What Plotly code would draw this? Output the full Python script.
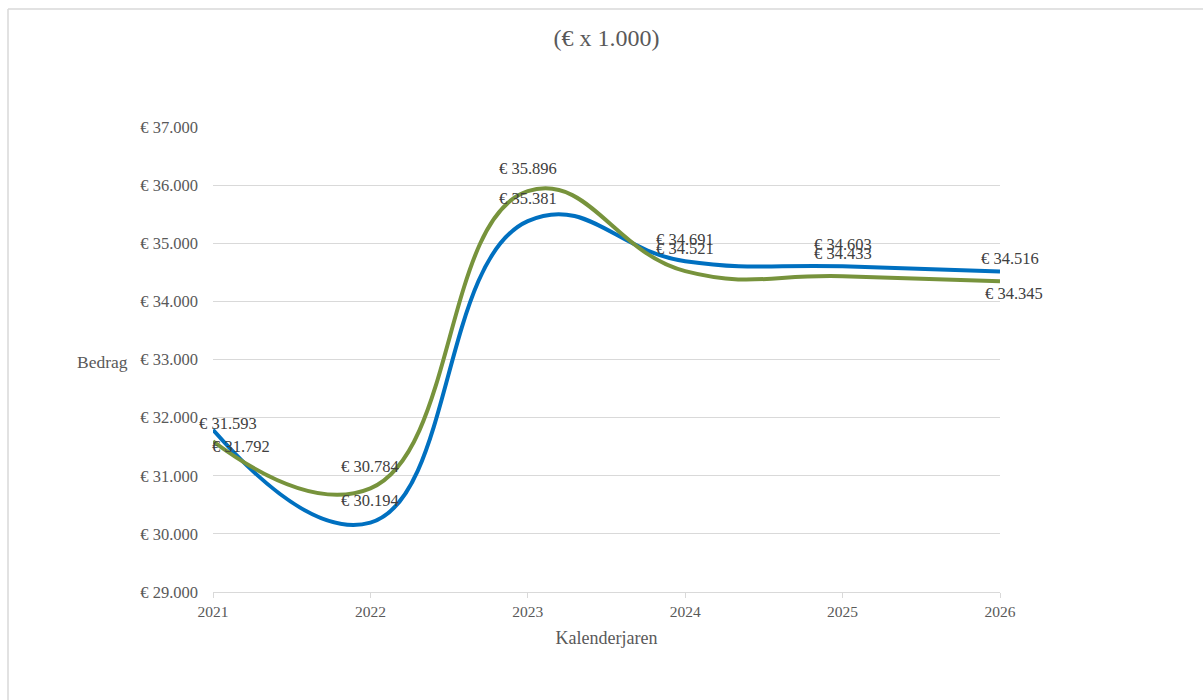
import plotly.graph_objects as go

years = [2021, 2022, 2023, 2024, 2025, 2026]
blue_values = [31792, 30194, 35381, 34691, 34603, 34516]
green_values = [31593, 30784, 35896, 34521, 34433, 34345]
y_tick_vals = [29000, 30000, 31000, 32000, 33000, 34000, 35000, 36000, 37000]
y_tick_text = ["€ 29.000", "€ 30.000", "€ 31.000", "€ 32.000", "€ 33.000",
               "€ 34.000", "€ 35.000", "€ 36.000", "€ 37.000"]

def fmt(v):
    return "€ " + f"{v:,}".replace(",", ".")

BLUE = "#0070C0"
GREEN = "#77933C"
FONT = "Liberation Serif, Times New Roman, serif"

W, H = 1203, 700
L, R, T, B = 213, 203, 127, 108
pw, ph = W - L - R, H - T - B

fig = go.Figure()
fig.add_trace(go.Scatter(x=years, y=blue_values, mode="lines",
                         line=dict(color=BLUE, width=4, shape="spline", smoothing=1.3),
                         showlegend=False, hoverinfo="skip"))
fig.add_trace(go.Scatter(x=years, y=green_values, mode="lines",
                         line=dict(color=GREEN, width=4, shape="spline", smoothing=1.3),
                         showlegend=False, hoverinfo="skip"))

# label offsets (px) relative to the data point
blue_shift = [(28, -17), (0, 22), (0, 23), (0, 22), (0, 22), (10, 13)]
green_shift = [(15, 18), (0, 22), (0, 23), (0, 23), (0, 23), (14, -12)]

annotations = []
for vals, shifts in ((blue_values, blue_shift), (green_values, green_shift)):
    for x, v, (dx, dy) in zip(years, vals, shifts):
        annotations.append(dict(x=x, y=v, xref="x", yref="y", text=fmt(v),
                                showarrow=False, xshift=dx, yshift=dy,
                                font=dict(family=FONT, size=16.5, color="#404040")))

annotations.append(dict(x=(130 - L) / pw, y=(H - B - 362) / ph, xref="paper", yref="paper",
                        xanchor="right", yanchor="middle", text="Bedrag", showarrow=False,
                        font=dict(family=FONT, size=17.5, color="#595959")))

fig.update_layout(
    annotations=annotations,
    width=W, height=H,
    margin=dict(l=L, r=R, t=T, b=B),
    paper_bgcolor="white", plot_bgcolor="white",
    font=dict(family=FONT, size=16, color="#595959"),
    title=dict(text="(€ x 1.000)", x=0.5, xref="paper", xanchor="center",
               y=1 - 38 / H, yref="container", yanchor="middle",
               font=dict(family=FONT, size=24, color="#595959")),
    xaxis=dict(range=[2021, 2026], tickvals=years, ticktext=[str(y) for y in years],
               showgrid=False, zeroline=False, showline=True, linecolor="#D9D9D9",
               linewidth=1, ticks="outside", ticklen=5, tickcolor="#D9D9D9",
               tickfont=dict(family=FONT, size=15.5, color="#595959"),
               title=dict(text="Kalenderjaren", standoff=12,
                          font=dict(family=FONT, size=18, color="#595959"))),
    yaxis=dict(range=[29000, 37000], tickvals=y_tick_vals, ticktext=y_tick_text,
               showgrid=True, gridcolor="#D9D9D9", gridwidth=1, zeroline=False,
               showline=False, ticks="", ticklabelstandoff=14,
               tickfont=dict(family=FONT, size=16.5, color="#595959")),
    shapes=[
        dict(type="line", xref="paper", yref="paper",
             x0=(8 - L) / pw, x1=(1203 - L) / pw, y0=(H - B - 9) / ph, y1=(H - B - 9) / ph,
             line=dict(color="#D9D9D9", width=1.5)),
        dict(type="line", xref="paper", yref="paper",
             x0=(8 - L) / pw, x1=(8 - L) / pw, y0=(H - B - 9) / ph, y1=(H - B - 700) / ph,
             line=dict(color="#D9D9D9", width=1.5)),
    ],
)

fig.write_html("out.html", config={"displayModeBar": False},
               post_script="document.body.style.margin='0';document.body.style.padding='0';")
